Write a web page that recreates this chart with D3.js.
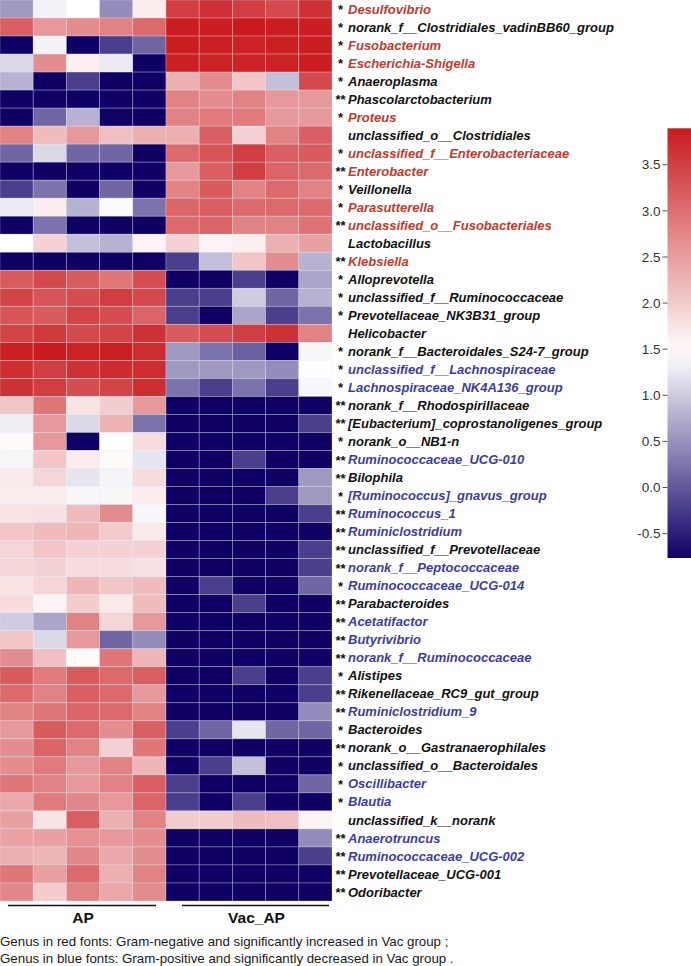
<!DOCTYPE html>
<html>
<head>
<meta charset="utf-8">
<script src="https://cdn.jsdelivr.net/npm/d3@7/dist/d3.min.js"></script>
<style>
  html, body { margin: 0; padding: 0; background: #ffffff; }
  svg { display: block; }
</style>
</head>
<body>
<svg id="chart" width="691" height="966"></svg>
<script>
// ---------------- DATA ----------------
const genera = [
  "Desulfovibrio","norank_f__Clostridiales_vadinBB60_group","Fusobacterium","Escherichia-Shigella",
  "Anaeroplasma","Phascolarctobacterium","Proteus","unclassified_o__Clostridiales",
  "unclassified_f__Enterobacteriaceae","Enterobacter","Veillonella","Parasutterella",
  "unclassified_o__Fusobacteriales","Lactobacillus","Klebsiella","Alloprevotella",
  "unclassified_f__Ruminococcaceae","Prevotellaceae_NK3B31_group","Helicobacter",
  "norank_f__Bacteroidales_S24-7_group","unclassified_f__Lachnospiraceae","Lachnospiraceae_NK4A136_group",
  "norank_f__Rhodospirillaceae","[Eubacterium]_coprostanoligenes_group","norank_o__NB1-n",
  "Ruminococcaceae_UCG-010","Bilophila","[Ruminococcus]_gnavus_group","Ruminococcus_1",
  "Ruminiclostridium","unclassified_f__Prevotellaceae","norank_f__Peptococcaceae",
  "Ruminococcaceae_UCG-014","Parabacteroides","Acetatifactor","Butyrivibrio",
  "norank_f__Ruminococcaceae","Alistipes","Rikenellaceae_RC9_gut_group","Ruminiclostridium_9",
  "Bacteroides","norank_o__Gastranaerophilales","unclassified_o__Bacteroidales","Oscillibacter",
  "Blautia","unclassified_k__norank","Anaerotruncus","Ruminococcaceae_UCG-002",
  "Prevotellaceae_UCG-001","Odoribacter"
];
const significance = [
  "*","*","*","*","*","**","*","","*","**","*","*","**","","**","*","*","*","","*","*","*",
  "**","**","*","**","**","*","**","**","**","**","*","**","**","**","**","*","**","**",
  "*","**","*","*","*","","**","**","**","**"
];
// "neg" = Gram-negative & increased (red), "pos" = Gram-positive & decreased (blue), "" = black
const gramGroup = [
  "neg","","neg","neg","","","neg","","neg","neg","","neg","neg","","neg","","","","","",
  "pos","pos","","","","pos","","pos","pos","pos","","pos","pos","","pos","pos","pos","","","pos",
  "","","","pos","pos","","pos","pos","",""
];
const samples = ["AP_1","AP_2","AP_3","AP_4","AP_5","Vac_AP_1","Vac_AP_2","Vac_AP_3","Vac_AP_4","Vac_AP_5"];
const groups = ["AP","Vac_AP"];
const apValues = [
  [0.56,1.34,1.45,0.45,1.65],[3.16,2.55,2.67,2.79,3.04],[-0.77,1.34,-0.77,-0.22,0.12],[1.12,2.67,1.62,1.27,-0.77],
  [0.78,-0.77,-0.22,-0.77,-0.77],[-0.77,-0.77,-0.77,-0.77,-0.77],[-0.77,0.12,0.78,-0.77,-0.77],[2.79,2.18,2.55,2.13,2.30],
  [0.12,1.12,0.12,0.12,-0.77],[-0.77,-0.77,-0.77,-0.77,-0.77],[-0.22,0.23,-0.77,0.12,-0.77],[1.27,1.65,0.78,1.41,0.23],
  [-0.77,0.23,-0.77,-0.77,-0.77],[1.45,1.94,0.90,0.78,1.57],[-0.77,-0.77,-0.77,-0.77,-0.77],[3.21,3.40,3.21,2.91,3.35],
  [3.45,3.28,3.35,3.52,3.40],[3.28,3.21,3.45,3.35,3.11],[3.45,3.57,3.40,3.45,3.65],[3.84,3.89,3.82,3.84,3.70],
  [3.70,3.52,3.65,3.72,3.70],[3.65,3.52,3.35,3.45,3.70],[2.06,2.91,1.74,1.99,2.55],[1.29,2.55,1.12,2.26,0.23],
  [1.50,2.55,-0.77,1.45,1.82],[1.38,2.06,1.65,1.50,1.23],[1.69,1.89,1.23,1.36,1.82],[1.65,1.65,1.38,1.38,1.65],
  [1.74,1.77,2.18,2.67,1.38],[2.06,2.18,2.23,2.01,1.69],[1.89,2.06,1.94,1.94,1.94],[1.89,1.94,1.82,1.82,1.77],
  [1.74,1.89,2.23,2.06,2.18],[1.82,1.57,1.99,1.69,2.18],[1.01,0.67,2.79,1.89,2.55],[2.06,1.12,2.55,0.12,0.45],
  [2.67,2.13,1.50,2.91,2.23],[3.21,2.87,3.21,3.04,3.16],[3.04,2.79,3.16,3.04,2.55],[2.79,2.91,3.11,3.04,2.79],
  [2.55,3.21,3.04,2.67,3.16],[2.67,3.11,2.79,1.94,2.91],[2.67,2.87,2.55,2.79,2.23],[2.91,2.79,2.55,2.79,3.16],
  [2.38,2.87,2.72,2.55,3.11],[2.47,1.74,3.16,2.30,2.79],[2.43,2.47,2.62,2.55,2.67],[2.30,2.23,2.72,2.38,2.67],
  [2.91,2.47,3.04,2.30,2.79],[2.72,1.99,2.79,2.38,2.67]
];
const vacValues = [
  [3.52,3.65,3.52,3.40,3.65],[3.86,3.86,3.89,3.87,3.86],[3.86,3.84,3.82,3.84,3.86],[3.84,3.82,3.80,3.82,3.86],
  [2.30,2.67,2.06,0.90,3.40],[2.79,2.67,2.79,2.55,2.55],[2.79,2.87,2.87,2.55,2.55],[2.30,3.16,1.94,2.79,3.16],
  [3.04,3.28,3.52,3.16,3.21],[2.55,3.16,3.52,3.11,3.04],[2.79,3.21,2.79,3.04,2.79],[3.09,3.16,3.04,3.04,3.04],
  [3.04,3.11,2.79,2.79,2.96],[1.94,1.57,1.62,2.30,2.47],[-0.22,0.90,2.06,2.67,0.78],[-0.77,-0.77,-0.22,-0.77,0.67],
  [-0.22,-0.22,1.01,0.12,0.78],[-0.22,-0.77,0.67,-0.22,0.23],[3.21,3.35,3.52,3.65,2.79],[0.56,0.23,0.07,-0.77,1.38],
  [0.56,0.56,0.56,0.45,1.47],[0.23,-0.22,0.23,-0.22,1.38],[-0.77,-0.77,-0.77,-0.77,-0.77],[-0.77,-0.77,-0.77,-0.77,-0.22],
  [-0.77,-0.77,-0.77,-0.77,-0.77],[-0.77,-0.77,-0.22,-0.77,-0.77],[-0.77,-0.77,-0.77,-0.77,0.56],[-0.77,-0.77,-0.77,-0.22,0.56],
  [-0.77,-0.77,-0.77,-0.77,-0.22],[-0.77,-0.77,-0.77,-0.77,-0.77],[-0.77,-0.77,-0.77,-0.77,-0.22],[-0.77,-0.77,-0.77,-0.77,-0.22],
  [-0.77,-0.22,-0.77,-0.77,0.12],[-0.77,-0.77,-0.22,-0.77,-0.77],[-0.77,-0.77,-0.77,-0.77,-0.77],[-0.77,-0.77,-0.77,-0.77,-0.77],
  [-0.77,-0.77,-0.77,-0.77,-0.77],[-0.77,-0.77,-0.22,-0.77,-0.22],[-0.77,-0.77,-0.77,-0.77,-0.22],[-0.77,-0.77,-0.77,-0.77,0.45],
  [-0.22,0.12,1.23,0.12,0.12],[-0.77,-0.77,-0.77,-0.77,-0.77],[-0.77,-0.22,0.90,-0.77,-0.77],[-0.22,-0.77,-0.77,-0.77,0.12],
  [-0.22,-0.77,-0.22,-0.77,-0.77],[1.99,1.99,2.18,2.13,1.57],[-0.77,-0.77,-0.77,-0.77,0.45],[-0.77,-0.77,-0.77,-0.77,-0.22],
  [-0.77,-0.77,-0.77,-0.77,-0.77],[-0.77,-0.77,-0.77,-0.77,-0.77]
];
const legendTicks = [-0.5, 0.0, 0.5, 1.0, 1.5, 2.0, 2.5, 3.0, 3.5];
const footnotes = [
  "Genus in red fonts: Gram-negative and significantly increased in Vac group ;",
  "Genus in blue fonts: Gram-positive and significantly decreased in Vac group ."
];

// ---------------- DRAW ----------------
const svg = d3.select("#chart");
const valueMin = -0.77, valueMid = 1.45, valueMax = 3.89;
const color = d3.scaleLinear()
  .domain([valueMin, valueMid, valueMax])
  .range(["#0f0066", "#ffffff", "#c91b1f"])
  .interpolate(d3.interpolateRgb)
  .clamp(true);

const hmLeft = 0, hmTop = 0, hmWidth = 332, hmHeight = 901;
const x = d3.scaleBand().domain(samples).range([hmLeft, hmLeft + hmWidth]).padding(0);
const y = d3.scaleBand().domain(genera).range([hmTop, hmTop + hmHeight]).padding(0);

const cells = [];
genera.forEach((g, i) => {
  samples.forEach((s, j) => {
    const v = j < 5 ? apValues[i][j] : vacValues[i][j - 5];
    cells.push({ g, s, v });
  });
});

svg.append("g").selectAll("rect")
  .data(cells)
  .join("rect")
  .attr("x", d => x(d.s))
  .attr("y", d => y(d.g))
  .attr("width", x.bandwidth())
  .attr("height", y.bandwidth())
  .attr("fill", d => color(d.v))
  .attr("stroke", "rgba(235,235,245,0.35)")
  .attr("stroke-width", 0.8);

// Row labels
const labelColor = { neg: "#bf3b2c", pos: "#3d3d9e", "": "#111111" };
const lab = svg.append("g")
  .attr("font-family", "'Liberation Sans', Arial, sans-serif")
  .attr("font-weight", "bold")
  .attr("font-style", "italic")
  .attr("font-size", 13);

lab.selectAll("text.star")
  .data(genera)
  .join("text")
  .attr("class", "star")
  .attr("x", 340)
  .attr("y", d => y(d) + y.bandwidth() / 2 + 5)
  .attr("text-anchor", "middle")
  .attr("fill", "#111")
  .text((d, i) => significance[i]);

lab.selectAll("text.name")
  .data(genera)
  .join("text")
  .attr("class", "name")
  .attr("x", 348)
  .attr("y", d => y(d) + y.bandwidth() / 2 + 4.6)
  .attr("fill", (d, i) => labelColor[gramGroup[i]])
  .text(d => d);

// Group brackets
const groupExtent = {
  AP: [x("AP_1") + 8, x("AP_5") + x.bandwidth() - 10],
  Vac_AP: [x("Vac_AP_1") + 16, x("Vac_AP_5") + x.bandwidth() - 3]
};
const gb = svg.append("g");
groups.forEach(gname => {
  const [a, b] = groupExtent[gname];
  gb.append("line")
    .attr("x1", a).attr("x2", b)
    .attr("y1", 905.5).attr("y2", 905.5)
    .attr("stroke", "#111").attr("stroke-width", 1.6);
  gb.append("text")
    .attr("x", (a + b) / 2 + 1)
    .attr("y", 922.5)
    .attr("text-anchor", "middle")
    .attr("font-family", "'Liberation Sans', Arial, sans-serif")
    .attr("font-weight", "bold")
    .attr("font-size", 15.5)
    .attr("fill", "#111")
    .text(gname);
});

// Footnotes
svg.append("g").selectAll("text")
  .data(footnotes)
  .join("text")
  .attr("x", 0)
  .attr("y", (d, i) => 946 + i * 17)
  .attr("font-family", "'Liberation Sans', Arial, sans-serif")
  .attr("font-size", 13.3)
  .attr("fill", "#1a1a1a")
  .text(d => d);

// Color legend
const cbLeft = 667.5, cbWidth = 24, cbTop = 128.3, cbBottom = 558;
const cy = d3.scaleLinear().domain([valueMin, valueMax]).range([cbBottom, cbTop]);
const defs = svg.append("defs");
const grad = defs.append("linearGradient")
  .attr("id", "cbgrad")
  .attr("x1", 0).attr("y1", 1).attr("x2", 0).attr("y2", 0);
d3.range(0, 1.0001, 0.05).forEach(t => {
  const v = valueMin + t * (valueMax - valueMin);
  grad.append("stop").attr("offset", t).attr("stop-color", color(v));
});
svg.append("rect")
  .attr("x", cbLeft).attr("y", cbTop)
  .attr("width", cbWidth).attr("height", cbBottom - cbTop)
  .attr("fill", "url(#cbgrad)");

const axis = svg.append("g")
  .attr("transform", `translate(${cbLeft},0)`)
  .call(d3.axisLeft(cy).tickValues(legendTicks).tickFormat(d => d.toFixed(1)).tickSize(5).tickPadding(2));
axis.select(".domain").remove();
axis.selectAll(".tick line").attr("stroke", "#555");
axis.selectAll(".tick text")
  .attr("font-family", "'Liberation Sans', Arial, sans-serif")
  .attr("font-size", 13.5)
  .attr("fill", "#333")
  .attr("dy", "0.35em");
</script>
</body>
</html>
